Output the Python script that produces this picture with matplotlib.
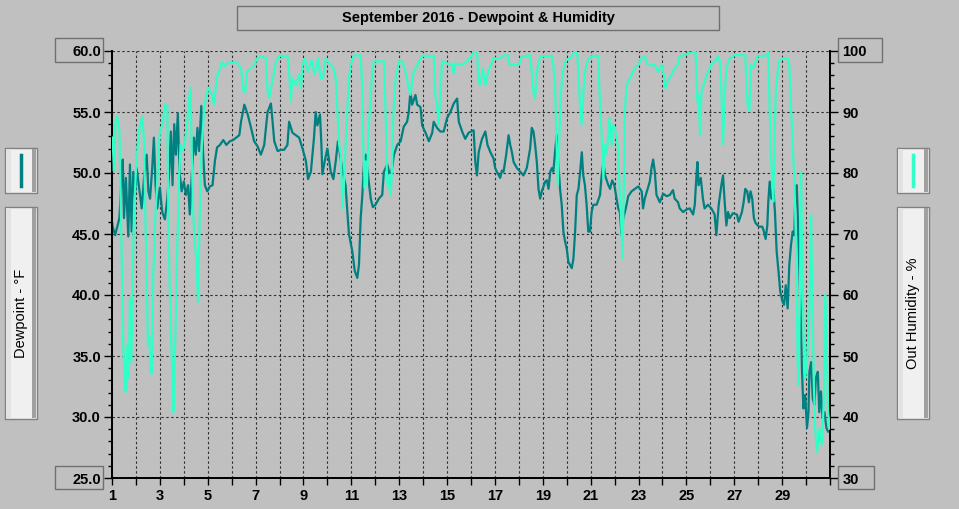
import matplotlib
matplotlib.use("Agg")
import matplotlib.pyplot as plt
from matplotlib.patches import Rectangle
from matplotlib.ticker import MultipleLocator, FixedLocator

# dewpoint (deg F): day of month -> value
dp_day = [1.00, 1.03, 1.13, 1.22, 1.31, 1.38, 1.45, 1.50, 1.58, 1.68, 1.75, 1.82, 1.89, 1.96,
          2.03, 2.10, 2.24, 2.34, 2.45, 2.52, 2.59, 2.68, 2.75, 2.82, 2.89, 3.00, 3.10, 3.21,
          3.31, 3.39, 3.46, 3.53, 3.60, 3.67, 3.75, 3.82, 3.91, 4.00, 4.09, 4.18, 4.25, 4.34,
          4.42, 4.50, 4.57, 4.64, 4.73, 4.81, 4.88, 4.98, 5.09, 5.20, 5.30, 5.39, 5.51, 5.65,
          5.78, 5.92, 6.06, 6.32, 6.39, 6.53, 6.67, 6.81, 6.94, 7.08, 7.22, 7.36, 7.50, 7.64,
          7.71, 7.78, 7.92, 8.06, 8.19, 8.33, 8.40, 8.54, 8.68, 8.82, 8.96, 9.10, 9.19, 9.31,
          9.44, 9.51, 9.58, 9.69, 9.75, 9.79, 9.89, 10.00, 10.14, 10.25, 10.35, 10.44, 10.53,
          10.63, 10.76, 10.83, 10.90, 11.04, 11.14, 11.25, 11.32, 11.39, 11.46, 11.53, 11.60,
          11.71, 11.81, 11.90, 12.01, 12.15, 12.29, 12.36, 12.50, 12.64, 12.78, 12.92, 13.06,
          13.19, 13.33, 13.40, 13.47, 13.54, 13.68, 13.75, 13.89, 13.96, 14.10, 14.24, 14.38,
          14.44, 14.58, 14.72, 14.86, 15.00, 15.14, 15.28, 15.42, 15.49, 15.63, 15.76, 15.90,
          16.11, 16.18, 16.25, 16.32, 16.46, 16.60, 16.69, 16.81, 16.94, 17.01, 17.08, 17.22,
          17.29, 17.36, 17.47, 17.57, 17.64, 17.71, 17.78, 17.92, 18.06, 18.19, 18.33, 18.47,
          18.54, 18.61, 18.68, 18.75, 18.82, 18.89, 18.96, 19.10, 19.17, 19.24, 19.31, 19.38,
          19.44, 19.51, 19.58, 19.65, 19.72, 19.79, 19.86, 19.93, 20.00, 20.07, 20.21, 20.28,
          20.35, 20.42, 20.49, 20.56, 20.63, 20.69, 20.76, 20.83, 20.90, 20.97, 21.04, 21.11,
          21.25, 21.39, 21.46, 21.53, 21.60, 21.74, 21.81, 21.90, 21.99, 22.08, 22.15, 22.22,
          22.29, 22.36, 22.43, 22.50, 22.57, 22.71, 22.85, 22.99, 23.13, 23.19, 23.26, 23.38,
          23.47, 23.54, 23.61, 23.68, 23.75, 23.82, 23.89, 24.03, 24.17, 24.31, 24.44, 24.51,
          24.65, 24.72, 24.86, 25.00, 25.14, 25.28, 25.35, 25.42, 25.46, 25.51, 25.60, 25.69,
          25.76, 25.90, 26.04, 26.18, 26.25, 26.35, 26.46, 26.53, 26.60, 26.67, 26.74, 26.81,
          26.94, 27.11, 27.18, 27.32, 27.39, 27.46, 27.54, 27.61, 27.68, 27.75, 27.82, 27.89,
          28.03, 28.17, 28.24, 28.31, 28.38, 28.42, 28.48, 28.55, 28.63, 28.70, 28.77, 28.85,
          28.92, 29.01, 29.08, 29.15, 29.23, 29.30, 29.37, 29.44, 29.51, 29.55, 29.61, 29.65,
          29.72, 29.79, 29.83, 29.89, 29.96, 30.04, 30.10, 30.14, 30.21, 30.28, 30.35, 30.41,
          30.49, 30.55, 30.62, 30.69, 30.77, 30.85, 30.92, 30.99]
dp_val = [46.0, 45.6, 44.9, 45.6, 46.3, 49.0, 51.1, 46.3, 49.6, 44.8, 50.7, 45.2, 50.1, 48.2,
          50.4, 49.3, 47.1, 49.6, 51.5, 48.5, 47.9, 50.4, 52.9, 49.0, 47.1, 48.8, 46.8, 46.2,
          47.9, 50.1, 53.4, 49.0, 54.0, 51.5, 54.9, 50.1, 48.5, 49.3, 48.2, 49.0, 46.6, 50.1,
          52.9, 51.5, 53.7, 51.8, 55.5, 51.5, 49.0, 48.5, 48.9, 49.0, 51.0, 52.1, 52.3, 52.7,
          52.3, 52.6, 52.7, 53.1, 54.2, 55.6, 54.8, 53.7, 52.6, 52.2, 51.5, 52.3, 55.0, 55.7,
          54.2, 52.6, 51.8, 51.9, 51.9, 52.3, 54.2, 53.3, 53.1, 52.9, 52.0, 51.0, 49.5, 50.1,
          52.9, 55.0, 53.9, 54.8, 52.3, 49.9, 51.0, 52.0, 50.1, 49.5, 51.0, 52.6, 51.5,
          50.1, 49.0, 46.9, 45.0, 43.6, 42.0, 41.4, 42.5, 46.3, 48.2, 50.9, 51.5,
          49.6, 47.9, 47.2, 47.4, 47.9, 48.2, 50.1, 50.7, 49.6, 51.5, 52.3, 52.6,
          53.8, 54.2, 55.0, 56.7, 55.6, 56.4, 55.6, 55.4, 53.9, 53.3, 52.6, 53.3,
          54.2, 53.7, 53.4, 53.4, 54.5, 55.0, 55.7, 56.1, 54.2, 53.4, 52.8, 53.3,
          53.5, 50.9, 49.8, 51.7, 52.8, 53.4, 52.3, 51.7, 51.2, 50.4, 50.1, 49.6,
          50.2, 50.1, 51.5, 53.1, 52.3, 51.7, 50.9, 50.4, 50.1, 49.8, 50.4, 52.0,
          53.7, 53.4, 52.3, 50.9, 48.7, 47.9, 48.5, 49.3, 49.4, 48.7, 50.1, 50.4,
          50.1, 51.7, 53.1, 50.9, 48.7, 47.4, 45.2, 44.4, 43.8, 42.7, 42.2, 43.0,
          45.2, 48.2, 48.7, 50.1, 51.7, 49.8, 49.0, 47.4, 45.2, 45.2, 46.8, 47.4,
          47.4, 48.2, 49.8, 50.9, 49.8, 49.0, 48.7, 49.4, 49.0, 47.9, 47.1, 46.8,
          44.9, 46.3, 46.8, 47.4, 48.1, 48.5, 48.7, 48.9, 48.5, 47.1, 47.9, 48.7,
          49.3, 50.4, 51.1, 50.1, 48.2, 47.9, 47.6, 48.3, 48.1, 48.2, 48.6, 47.9,
          47.6, 47.1, 46.8, 47.0, 47.1, 46.6, 47.4, 49.8, 50.9, 49.0, 49.6, 47.9,
          47.1, 47.4, 47.1, 46.6, 44.9, 47.4, 49.0, 49.8, 47.6, 45.7, 46.8, 46.3,
          46.7, 46.6, 46.0, 46.8, 47.6, 48.7, 48.5, 47.6, 48.5, 47.9, 46.3, 45.9,
          45.6, 45.6, 45.2, 44.6, 45.7, 47.6, 49.3, 47.9, 48.7, 46.8, 43.6, 41.9,
          40.3, 39.5, 39.2, 40.8, 38.9, 42.5, 44.1, 45.2, 44.9, 48.2, 49.0, 46.8,
          41.9, 37.3, 33.7, 30.7, 31.8, 29.1, 30.4, 33.7, 34.5, 31.5, 31.0, 33.2,
          33.7, 30.4, 32.1, 29.9, 30.4, 29.1, 28.8, 28.8]

# outdoor humidity (%)
hum_day = [1.00, 1.03, 1.08, 1.14, 1.22, 1.31, 1.36, 1.42, 1.47, 1.54, 1.58, 1.64, 1.70, 1.75,
           1.81, 1.86, 1.92, 2.00, 2.10, 2.17, 2.27, 2.34, 2.39, 2.45, 2.50, 2.56, 2.61, 2.67,
           2.72, 2.79, 2.86, 2.93, 3.00, 3.11, 3.21, 3.31, 3.36, 3.42, 3.48, 3.53, 3.57, 3.61,
           3.67, 3.73, 3.80, 3.87, 3.95, 4.04, 4.14, 4.22, 4.28, 4.34, 4.39, 4.46, 4.53, 4.59,
           4.64, 4.70, 4.76, 4.84, 4.92, 5.02, 5.16, 5.27, 5.37, 5.48, 5.58, 5.72, 5.85, 6.06,
           6.25, 6.39, 6.50, 6.56, 6.64, 6.81, 6.94, 7.06, 7.22, 7.43, 7.50, 7.57, 7.64, 7.75,
           7.85, 7.99, 8.33, 8.40, 8.47, 8.54, 8.68, 8.82, 8.89, 8.96, 9.06, 9.19, 9.33, 9.47,
           9.61, 9.72, 9.81, 9.93, 10.07, 10.25, 10.35, 10.42, 10.49, 10.56, 10.63, 10.69,
           10.76, 10.83, 10.90, 10.97, 11.11, 11.39, 11.46, 11.50, 11.56, 11.60, 11.65, 11.71,
           11.78, 11.88, 11.94, 12.36, 12.43, 12.49, 12.54, 12.60, 12.65, 12.71, 12.76, 12.85,
           12.99, 13.13, 13.26, 13.40, 13.47, 13.54, 13.61, 13.75, 13.89, 13.96, 14.44, 14.51,
           14.58, 14.65, 14.72, 14.79, 15.00, 15.21, 15.28, 15.35, 15.56, 15.76, 15.88, 16.01,
           16.11, 16.25, 16.32, 16.39, 16.49, 16.60, 16.71, 16.83, 16.94, 17.22, 17.36, 17.53,
           17.61, 17.78, 17.99, 18.13, 18.47, 18.54, 18.61, 18.68, 18.75, 18.89, 19.38, 19.44,
           19.51, 19.57, 19.63, 19.68, 19.75, 19.83, 19.97, 20.17, 20.31, 20.44, 20.50, 20.56,
           20.63, 20.69, 20.76, 20.90, 21.11, 21.32, 21.39, 21.46, 21.53, 21.60, 21.67, 21.78,
           21.88, 21.94, 22.04, 22.13, 22.19, 22.26, 22.33, 22.38, 22.43, 22.50, 22.64, 22.85,
           22.99, 23.13, 23.26, 23.40, 23.68, 23.82, 23.96, 24.06, 24.13, 24.21, 24.38, 24.51,
           24.65, 24.72, 25.07, 25.38, 25.42, 25.46, 25.51, 25.57, 25.63, 25.76, 25.90, 26.04,
           26.18, 26.32, 26.40, 26.46, 26.53, 26.60, 26.67, 26.81, 27.01, 27.25, 27.46, 27.51,
           27.56, 27.63, 27.70, 27.79, 27.89, 27.96, 28.38, 28.42, 28.48, 28.52, 28.59, 28.63,
           28.68, 28.73, 28.80, 28.87, 29.01, 29.23, 29.30, 29.37, 29.44, 29.51, 29.58, 29.65,
           29.69, 29.75, 29.79, 29.83, 29.89, 29.96, 30.04, 30.14, 30.21, 30.25, 30.32, 30.38,
           30.46, 30.56, 30.66, 30.75, 30.80, 30.86, 30.92, 30.99]
hum_val = [85.8, 85.2, 80.3, 88.5, 89.3, 86.8, 76.4, 62.7, 51.8, 45.2, 44.1, 51.8, 46.3, 59.5,
           49.0, 62.7, 73.7, 80.3, 85.8, 87.9, 89.3, 84.7, 73.7, 62.7, 51.8, 53.4, 47.1, 47.4,
           62.7, 71.0, 76.4, 81.9, 86.8, 87.9, 91.2, 91.0, 71.0, 60.0, 51.8, 46.3, 40.8, 47.4,
           57.3, 68.2, 79.2, 84.7, 83.6, 84.7, 88.5, 92.3, 94.0, 81.9, 73.7, 68.2, 66.0, 58.9,
           68.2, 79.2, 84.7, 90.1, 92.3, 94.0, 92.9, 91.2, 95.6, 96.7, 98.1, 97.5, 98.1, 98.1,
           98.0, 97.2, 93.4, 93.1, 96.6, 97.2, 97.7, 98.8, 99.1, 98.8, 93.4, 92.3, 93.9, 96.1,
           98.3, 99.2, 99.2, 96.6, 91.7, 95.5, 94.4, 96.1, 93.9, 97.7, 98.8, 96.6, 98.5, 96.1,
           98.8, 95.5, 95.5, 98.8, 98.0, 97.2, 95.5, 90.1, 84.6, 83.0, 74.3, 78.1,
           84.6, 90.1, 95.0, 97.7, 99.3, 99.3, 93.3, 84.6, 77.5, 81.9, 78.0, 85.7,
           91.1, 96.6, 98.3, 98.3, 90.1, 79.1, 77.5, 79.7, 76.4, 81.9, 90.1, 95.5,
           98.3, 98.3, 96.6, 93.9, 92.8, 95.0, 96.6, 97.7, 98.8, 99.2, 99.2, 92.8,
           91.1, 87.9, 92.8, 98.3, 98.0, 97.7, 96.3, 98.0, 97.7, 98.0, 98.5, 99.1,
           99.9, 99.9, 95.0, 94.4, 97.2, 94.4, 96.6, 97.7, 98.8, 98.8, 99.3, 99.3,
           97.7, 97.7, 97.7, 99.1, 99.3, 96.6, 93.3, 92.3, 96.6, 99.1, 99.2, 97.7,
           94.4, 85.7, 78.0, 84.6, 92.8, 96.6, 98.5, 98.8, 99.9, 99.6, 95.5, 90.6,
           87.9, 92.8, 96.6, 98.8, 99.2, 99.2, 91.1, 86.2, 79.1, 84.6, 83.0, 89.0,
           84.6, 87.9, 86.8, 84.6, 79.1, 73.7, 66.0, 76.4, 90.1, 94.4, 95.5, 97.2,
           97.7, 98.8, 99.1, 97.7, 97.7, 96.6, 97.7, 96.1, 93.9, 95.0, 96.1, 97.2,
           97.7, 99.1, 99.6, 99.9, 95.5, 91.7, 92.8, 86.2, 93.3, 95.0, 96.6, 97.7,
           98.3, 99.1, 98.3, 93.3, 84.6, 92.8, 97.2, 98.8, 99.3, 99.3, 99.3, 94.4,
           91.1, 90.1, 97.7, 97.2, 98.3, 99.1, 99.3, 100.0, 90.1, 84.6, 78.0, 75.3,
           84.6, 92.8, 96.1, 98.3, 98.8, 98.8, 97.7, 91.1, 84.6, 79.1, 68.2, 49.1,
           45.2, 62.7, 80.2, 68.2, 54.5, 46.3, 49.1, 57.3, 73.1, 62.7, 46.3, 38.1,
           34.3, 38.1, 35.4, 43.6, 60.0, 51.8, 40.9, 38.1]

title = "September 2016 - Dewpoint & Humidity"
day_ticks = list(range(1, 32))
dp_ticks = [25, 30, 35, 40, 45, 50, 55, 60]
hum_ticks = [30, 40, 50, 60, 70, 80, 90, 100]

BG = "#c0c0c0"
TEAL = "#008080"
AQUA = "#30ffc8"
W, H = 959, 509

fig = plt.figure(figsize=(W / 100, H / 100), dpi=100, facecolor=BG)
ax = fig.add_axes([112 / W, 1 - 478 / H, (830 - 112) / W, (478 - 51) / H])
ax.set_facecolor(BG)
ax2 = ax.twinx()

ax.plot(dp_day, dp_val, color=TEAL, lw=1.6, zorder=3)
ax2.plot(hum_day, hum_val, color=AQUA, lw=1.6, zorder=3)

ax.set_xlim(1, 31)
ax.set_ylim(25, 60)
ax2.set_ylim(30, 100)

tfont = dict(family="Liberation Sans", weight="bold", size=10.5)

ax.xaxis.set_major_locator(FixedLocator(day_ticks))
ax.set_xticklabels([str(d) if d % 2 == 1 and d < 31 else "" for d in day_ticks], fontdict=tfont)
ax.set_yticks(dp_ticks)
ax.set_yticklabels(["%.1f" % v for v in dp_ticks], fontdict=tfont)
ax.yaxis.set_minor_locator(MultipleLocator(1))
ax2.set_yticks(hum_ticks)
ax2.set_yticklabels([str(v) for v in hum_ticks], fontdict=tfont)
ax2.yaxis.set_minor_locator(MultipleLocator(2))

ax.tick_params(axis="x", which="major", length=5, width=1, pad=3, colors="black")
ax.tick_params(axis="y", which="major", length=6, width=1, pad=2)
ax.tick_params(axis="y", which="minor", length=3, width=1)
ax2.tick_params(axis="y", which="major", length=6, width=1, pad=3)
ax2.tick_params(axis="y", which="minor", length=3, width=1)

ax.grid(True, which="major", linestyle=(0, (2.2, 2.2)), color="#303030", linewidth=0.8)
ax.set_axisbelow(True)

for a in (ax, ax2):
    a.spines["top"].set_visible(False)
    for s in ("left", "right", "bottom"):
        a.spines[s].set_color("black")
        a.spines[s].set_linewidth(1.3)


def box(x0, y0, x1, y1, face="none", edge="#707070", lw=1.0):
    fig.patches.append(Rectangle((x0 / W, 1 - y1 / H), (x1 - x0) / W, (y1 - y0) / H,
                                 transform=fig.transFigure, facecolor=face,
                                 edgecolor=edge, lw=lw))


# title box
box(237, 6, 719, 30)
fig.text(478 / W, 1 - 18 / H, title, ha="center", va="center",
         family="Liberation Sans", weight="bold", size=10.5)

# boxes round the end tick labels
box(55, 38, 103, 62)
box(55, 466, 103, 489)
box(838, 38, 882, 62)
box(838, 466, 874, 489)


def side_panel(x0, color, label):
    x1 = x0 + 32
    for (y0, y1) in ((148, 193), (207, 419)):
        box(x0, y0, x1, y1, face="#f0f0f0", edge="#808080")
        box(x0 + 1, y0 + 1, x0 + 6, y1 - 1, face="#e2e2e2", edge="none", lw=0)
        box(x1 - 5, y0 + 1, x1 - 1, y1 - 1, face="#a0a0a0", edge="none", lw=0)
    xc = (x0 + x1) / 2
    fig.lines.append(plt.Line2D([xc / W, xc / W], [1 - 155 / H, 1 - 186 / H],
                                transform=fig.transFigure, color=color, lw=2.5))
    fig.text(xc / W, 1 - 313 / H, label, rotation=90, ha="center", va="center",
             family="Liberation Sans", size=10.5)


side_panel(5, TEAL, "Dewpoint - °F")
side_panel(897, AQUA, "Out Humidity - %")

fig.savefig("out.png", dpi=100, facecolor=BG)
